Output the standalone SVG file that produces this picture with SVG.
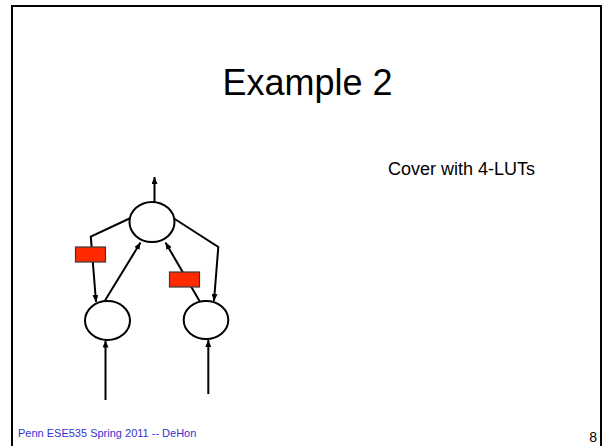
<svg xmlns="http://www.w3.org/2000/svg" width="604" height="446" viewBox="0 0 604 446">
  <style>
    .frame { fill: #ffffff; stroke: #000000; stroke-width: 2; }
    .node { fill: #ffffff; stroke: #000000; stroke-width: 2; }
    .edge { fill: none; stroke: #000000; stroke-width: 2; marker-end: url(#arrow); }
    .wire { fill: none; stroke: #000000; stroke-width: 2; }
    .reg { fill: #ff2a00; stroke: #3a3a3a; stroke-width: 1.2; }
    .title { font-family: "Liberation Sans", Arial, sans-serif; font-size: 36px; fill: #000000; }
    .body { font-family: "Liberation Sans", Arial, sans-serif; font-size: 18px; fill: #000000; }
    .foot { font-family: "Liberation Sans", Arial, sans-serif; font-size: 11px; fill: #3333cc; }
    .num { font-family: "Liberation Sans", Arial, sans-serif; font-size: 14px; fill: #000000; }
  </style>
  <defs>
    <marker id="arrow" markerUnits="userSpaceOnUse" markerWidth="7" markerHeight="6" refX="7" refY="3" orient="auto">
      <path d="M0,0 L7,3 L0,6 z" fill="#000000"/>
    </marker>
  </defs>

  <rect width="604" height="446" fill="#ffffff"/>
  <rect class="frame" x="12" y="6" width="589" height="460"/>

  <text class="title" x="307.5" y="95" text-anchor="middle">Example 2</text>
  <text class="body" x="388" y="175">Cover with 4-LUTs</text>

  <g id="connectors">
    <line class="edge" x1="154.5" y1="202" x2="154.5" y2="177"/>
    <polyline class="edge" points="129.5,218.5 90.8,236.5 96,302"/>
    <line class="edge" x1="105" y1="300.5" x2="140.5" y2="242.5"/>
    <polyline class="edge" points="174,218.5 218.3,247 214,301"/>
    <line class="edge" x1="199.5" y1="301" x2="165.5" y2="242.5"/>
    <line class="edge" x1="105.5" y1="400" x2="105.5" y2="340.5"/>
    <line class="edge" x1="208.3" y1="394" x2="208.3" y2="340"/>
  </g>

  <g id="node-top">
    <ellipse class="node" cx="152" cy="222" rx="22.5" ry="20"/>
  </g>
  <g id="node-left">
    <ellipse class="node" cx="107.5" cy="320.5" rx="22.5" ry="19.5"/>
  </g>
  <g id="node-right">
    <ellipse class="node" cx="206" cy="320" rx="22.3" ry="19"/>
  </g>
  <g id="reg-left">
    <rect class="reg" x="75.5" y="247" width="30" height="15"/>
  </g>
  <g id="reg-right">
    <rect class="reg" x="169.5" y="272" width="30" height="15"/>
  </g>

  <text class="foot" x="18" y="437">Penn ESE535 Spring 2011 -- DeHon</text>
  <text class="num" x="597" y="442" text-anchor="end">8</text>
</svg>
